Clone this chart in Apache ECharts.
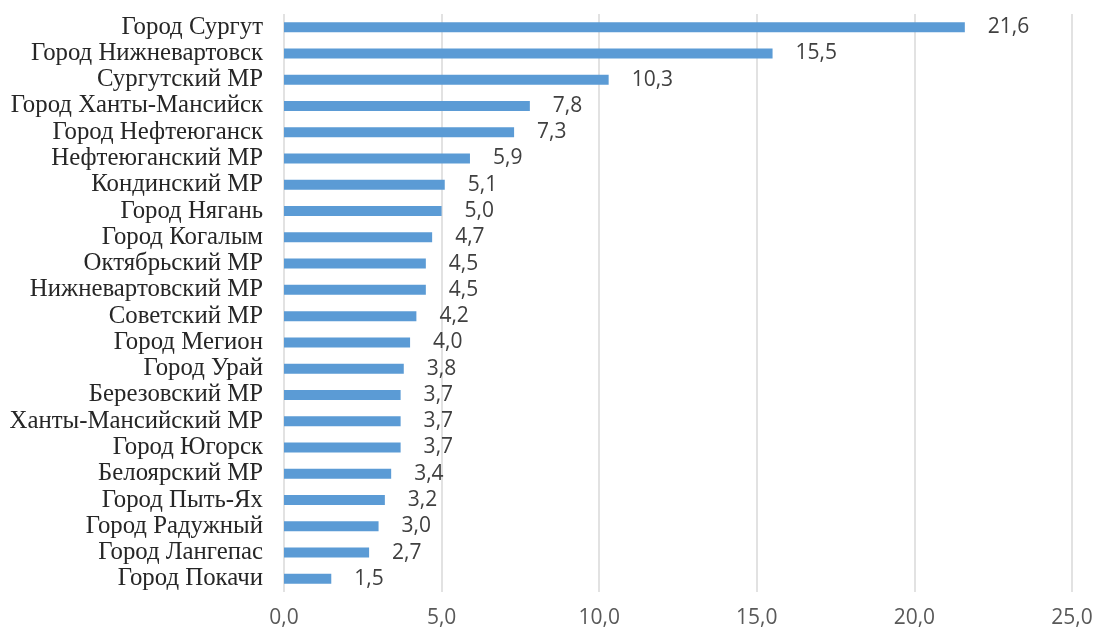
<!DOCTYPE html>
<html>
<head>
<meta charset="utf-8">
<script src="https://cdn.jsdelivr.net/npm/echarts@6/dist/echarts.min.js"></script>
<style>html,body{margin:0;padding:0;background:#fff;}#c{width:1101px;height:629px;}</style>
</head>
<body>
<div id="c"></div>
<script>
const categories = ["Город Сургут","Город Нижневартовск","Сургутский МР","Город Ханты-Мансийск","Город Нефтеюганск","Нефтеюганский МР","Кондинский МР","Город Нягань","Город Когалым","Октябрьский МР","Нижневартовский МР","Советский МР","Город Мегион","Город Урай","Березовский МР","Ханты-Мансийский МР","Город Югорск","Белоярский МР","Город Пыть-Ях","Город Радужный","Город Лангепас","Город Покачи"];
const values = [21.6,15.5,10.3,7.8,7.3,5.9,5.1,5.0,4.7,4.5,4.5,4.2,4.0,3.8,3.7,3.7,3.7,3.4,3.2,3.0,2.7,1.5];
const xTicks = [0,5,10,15,20,25];
const fmt = v => Number(v).toFixed(1).replace('.', ',');
const chart = echarts.init(document.getElementById('c'));
chart.setOption({
  animation: false,
  grid: {left: 284, right: 29, top: 14, bottom: 37, containLabel: false},
  xAxis: {
    type: 'value', min: xTicks[0], max: xTicks[xTicks.length-1], interval: 5,
    axisLine: {show: false}, axisTick: {show: false},
    splitLine: {show: true, lineStyle: {color: '#d9d9d9', width: 1.5}},
    axisLabel: {formatter: fmt, color: '#595959', fontFamily: 'Open Sans', fontSize: 21, margin: 16}
  },
  yAxis: {
    type: 'category', data: categories, inverse: true,
    axisLine: {show: false}, axisTick: {show: false},
    axisLabel: {interval: 0, hideOverlap: false, color: '#262626', fontFamily: 'Liberation Serif', fontSize: 24.8, lineHeight: 24, margin: 21}
  },
  series: [{
    type: 'bar', data: values, barWidth: 10,
    itemStyle: {color: '#5b9bd5'},
    label: {show: true, position: 'right', distance: 23, formatter: p => fmt(p.value),
      color: '#404040', fontFamily: 'Open Sans', fontSize: 21}
  }]
});
</script>
</body>
</html>
